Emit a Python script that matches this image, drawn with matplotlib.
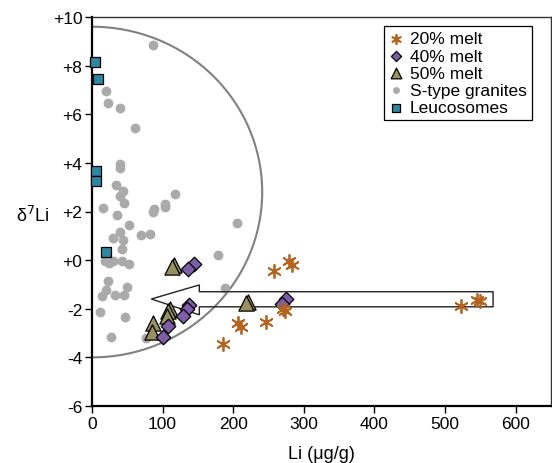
import matplotlib
matplotlib.use("Agg")
import matplotlib.pyplot as plt
from matplotlib.patches import Arc, Polygon

plt.rcParams["font.family"] = ["Liberation Sans", "DejaVu Sans"]

# ---------- data (Li in ug/g, d7Li) ----------
melt20_li = [279, 283, 258, 270, 273, 246, 207, 211, 186, 523, 545, 549]
melt20_d = [-0.05, -0.2, -0.45, -2.0, -2.1, -2.55, -2.6, -2.75, -3.45, -1.9, -1.65, -1.7]

melt40_li = [144, 136, 138, 134, 129, 108, 100, 275, 269]
melt40_d = [-0.15, -0.35, -1.85, -2.0, -2.3, -2.7, -3.15, -1.6, -1.8]

melt50_li = [116, 113, 110, 108, 106, 87, 85, 221, 218]
melt50_d = [-0.2, -0.3, -2.0, -2.1, -2.3, -2.6, -2.95, -1.72, -1.78]

granite_li = [86, 20, 22, 39, 61, 39, 40, 34, 44, 39, 46, 15, 36, 53, 40, 30, 44,
              70, 82, 43, 87, 88, 104, 103, 117, 24, 30, 43, 53, 19,
              22, 50, 20, 32, 45, 14, 11, 47, 27, 76, 206, 179, 188]
granite_d = [8.85, 6.95, 6.47, 6.24, 5.42, 3.95, 3.8, 3.1, 2.84, 2.65, 2.35, 2.13, 1.84,
             1.44, 1.16, 0.9, 0.84, 1.04, 1.06, 0.45, 1.99, 2.1, 2.19, 2.3, 2.74,
             -0.12, -0.05, -0.05, -0.15, -0.05,
             -0.86, -1.12, -1.23, -1.43, -1.44, -1.49, -2.15, -2.33, -3.16, -3.21,
             1.52, 0.22, -1.16]

leuco_li = [4, 9, 5, 6, 20]
leuco_d = [8.15, 7.45, 3.65, 3.25, 0.32]

yticks = [10, 8, 6, 4, 2, 0, -2, -4, -6]
ytick_labels = ["+10", "+8", "+6", "+4", "+2", "+0", "-2", "-4", "-6"]
xticks = [0, 100, 200, 300, 400, 500, 600]

FS = 12.5

fig = plt.figure(figsize=(5.52, 4.64), dpi=100)
ax = fig.add_axes([92 / 552, 57 / 464, 459 / 552, 389 / 464])

# field envelope (half ellipse)
ax.add_patch(Arc((0, 2.8), 2 * 241, 2 * 6.8, theta1=-90, theta2=87,
                 color="#808080", lw=1.5, zorder=1))

ax.scatter(granite_li, granite_d, s=50, color="#aaaaaa", lw=0,
           label="S-type granites", zorder=2)
ax.scatter(leuco_li, leuco_d, s=55, marker="s", color="#2e87a2",
           edgecolor="black", lw=0.9, label="Leucosomes", zorder=5, clip_on=False)

# big open arrow pointing to lower Li
arrow = [(568, -1.3), (152, -1.3), (152, -1.02), (84, -1.6),
         (152, -2.25), (152, -1.92), (568, -1.92)]
ax.add_patch(Polygon(arrow, closed=True, facecolor="none",
                     edgecolor="#222222", lw=1.0, zorder=3))

ax.scatter(melt50_li, melt50_d, s=120, marker="^", color="#9a9160",
           edgecolor="black", lw=0.9, label="50% melt", zorder=4)
ax.scatter(melt40_li, melt40_d, s=55, marker="D", color="#7e5ea8",
           edgecolor="black", lw=0.9, label="40% melt", zorder=4)
ax.scatter(melt20_li, melt20_d, s=90, marker=(6, 2, 0), color="#b5641f",
           lw=1.3, label="20% melt", zorder=4)

ax.set_xlim(0, 650)
ax.set_ylim(-6, 10)
ax.set_xticks(xticks)
ax.set_yticks(yticks)
ax.set_yticklabels(ytick_labels)
ax.tick_params(direction="out", length=5, width=1, labelsize=FS, pad=2)

for side in ["left", "bottom"]:
    ax.spines[side].set_linewidth(1.6)
for side in ["top", "right"]:
    ax.spines[side].set_linewidth(1.0)
    ax.spines[side].set_color("#333333")

ax.set_xlabel("Li (\u03bcg/g)", fontsize=FS + 0.5, labelpad=10)
ax.set_ylabel("\u03b4$^{7}$Li", fontsize=FS + 0.5, rotation=0, va="center", ha="center")
ax.yaxis.set_label_coords(-0.13, 0.49)

handles, labels = ax.get_legend_handles_labels()
order = ["20% melt", "40% melt", "50% melt", "S-type granites", "Leucosomes"]
hmap = dict(zip(labels, handles))
leg = ax.legend([hmap[k] for k in order], order, loc="upper right",
                bbox_to_anchor=(0.9586, 0.977), borderaxespad=0, fontsize=FS,
                frameon=True, fancybox=False, edgecolor="black", framealpha=1,
                handlelength=0.8, handletextpad=0.4, labelspacing=0.12,
                borderpad=0.3, markerscale=0.7)
leg.get_frame().set_linewidth(0.9)

fig.savefig("out.png", dpi=100)
